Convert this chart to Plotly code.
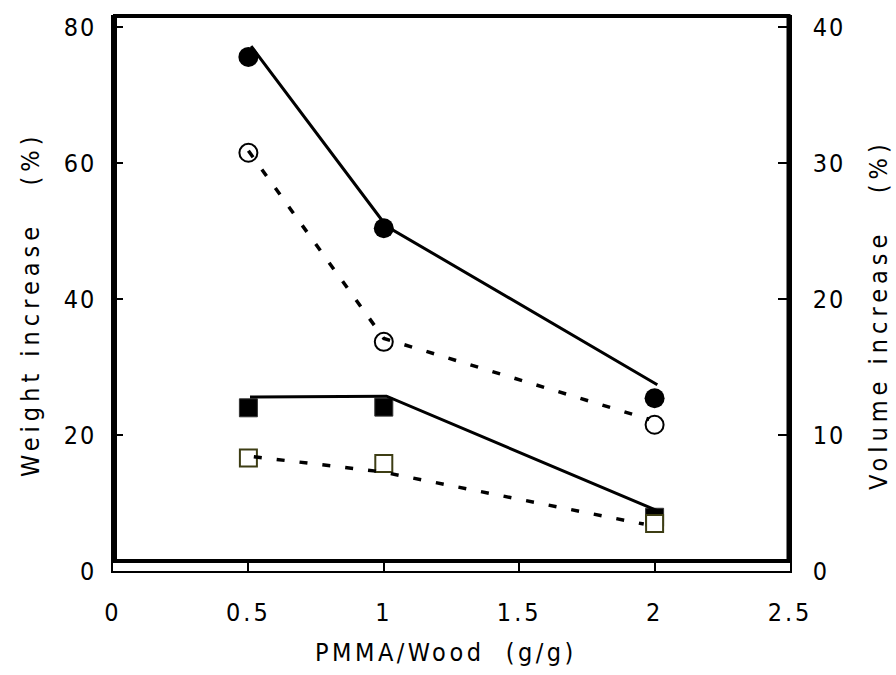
import plotly.graph_objects as go

# ---- data ----
pmma_wood = [0.5, 1.0, 2.0]
weight_filled = [75.6, 50.4, 25.4]      # filled circles, left axis (%)
weight_open = [61.5, 33.7, 21.5]        # open circles, left axis (%)
volume_filled = [12.0, 12.05, 3.95]     # filled squares, right axis (%)
volume_open = [8.3, 7.9, 3.5]           # open squares, right axis (%)

# drawn lines (slightly offset from the markers in the original)
line_x_wf = [0.51, 1.01, 2.01]
line_wf = [77.2, 50.7, 27.4]
line_x_wo = [0.5, 1.0, 1.98]
line_wo = [61.8, 34.2, 22.3]
line_x_vf = [0.506, 1.01, 2.02]
line_vf = [12.8, 12.85, 4.35]
line_x_vo = [0.52, 0.99, 1.96]
line_vo = [8.4, 7.3, 3.45]

x_ticks = [0, 0.5, 1, 1.5, 2, 2.5]
x_ticklabels = ["0", "0.5", "1", "1.5", "2", "2.5"]
y_ticks = [0, 20, 40, 60, 80]
y2_ticks = [0, 10, 20, 30, 40]

FONT = "DejaVu Sans Condensed, Liberation Sans, Arial, sans-serif"
OLIVE = "#3d3d14"

def sp(t, ls=2):
    return f'<span style="letter-spacing:{ls}px">{t}</span>'

fig = go.Figure()

# markers
fig.add_trace(go.Scatter(x=pmma_wood, y=weight_filled, mode="markers",
                         marker=dict(symbol="circle", size=20, color="black",
                                     line=dict(width=0)), yaxis="y"))
fig.add_trace(go.Scatter(x=pmma_wood, y=weight_open, mode="markers",
                         marker=dict(symbol="circle", size=18, color="white",
                                     line=dict(width=2, color="black")), yaxis="y"))
fig.add_trace(go.Scatter(x=pmma_wood, y=volume_filled, mode="markers",
                         marker=dict(symbol="square", size=18, color="black",
                                     line=dict(width=1, color="#333")), yaxis="y2"))
fig.add_trace(go.Scatter(x=pmma_wood, y=volume_open, mode="markers",
                         marker=dict(symbol="square", size=17, color="white",
                                     line=dict(width=2, color=OLIVE)), yaxis="y2"))

# lines
fig.add_trace(go.Scatter(x=line_x_wf, y=line_wf, mode="lines",
                         line=dict(color="black", width=3), yaxis="y"))
fig.add_trace(go.Scatter(x=line_x_wo, y=line_wo, mode="lines",
                         line=dict(color="black", width=3.5, dash="8px,15px"), yaxis="y"))
fig.add_trace(go.Scatter(x=line_x_vf, y=line_vf, mode="lines",
                         line=dict(color="black", width=3), yaxis="y2"))
fig.add_trace(go.Scatter(x=line_x_vo, y=line_vo, mode="lines",
                         line=dict(color="black", width=3.5, dash="8px,15px"), yaxis="y2"))

L, R, T, B = 113, 790, 15, 571
W, H = 896, 675
pw, ph = R - L, B - T

def px(xp):
    return (xp - L) / pw

def py(yp):
    return (B - yp) / ph

ytop = (B - T) / 6.8

fig.update_layout(
    width=W, height=H,
    margin=dict(l=L, r=W - R, t=T, b=H - B),
    paper_bgcolor="white", plot_bgcolor="white",
    showlegend=False,
    font=dict(family=FONT, size=25, color="black"),
    xaxis=dict(range=[0, 2.5], tickvals=x_ticks,
               ticktext=[sp(t, 3) for t in x_ticklabels],
               ticks="inside", ticklen=10, tickwidth=1.5, tickcolor="black",
               showline=True, linewidth=1.5, linecolor="black",
               showgrid=False, zeroline=False, ticklabelstandoff=18,
               fixedrange=True),
    yaxis=dict(range=[0, ytop], tickvals=y_ticks,
               ticktext=[sp(str(v), 2) for v in y_ticks],
               ticks="inside", ticklen=10, tickwidth=1.5, tickcolor="black",
               showline=True, linewidth=1.5, linecolor="black",
               showgrid=False, zeroline=False, ticklabelstandoff=10,
               fixedrange=True),
    yaxis2=dict(range=[0, ytop / 2], tickvals=y2_ticks,
                ticktext=[sp(str(v), 2) for v in y2_ticks],
                overlaying="y", side="right",
                ticks="inside", ticklen=12, tickwidth=1.5, tickcolor="black",
                showline=True, linewidth=1.5, linecolor="black",
                showgrid=False, zeroline=False, ticklabelstandoff=16,
                fixedrange=True),
    shapes=[
        dict(type="rect", xref="paper", yref="paper",
             x0=px(115), x1=px(788.5), y0=py(561), y1=py(16),
             line=dict(color="black", width=4), layer="above"),
    ],
    annotations=[
        dict(text=sp("PMMA/Wood  (g/g)", 3.5), xref="paper", yref="paper",
             x=px(446), y=py(652), showarrow=False, xanchor="center", yanchor="middle",
             font=dict(size=25)),
        dict(text=sp("Weight increase   (%)", 5), xref="paper", yref="paper",
             x=px(30), y=py(305), showarrow=False, textangle=-90,
             xanchor="center", yanchor="middle", font=dict(size=25)),
        dict(text=sp("Volume increase   (%)", 5), xref="paper", yref="paper",
             x=px(878), y=py(315), showarrow=False, textangle=-90,
             xanchor="center", yanchor="middle", font=dict(size=25)),
    ],
)

fig.write_html("out.html")
